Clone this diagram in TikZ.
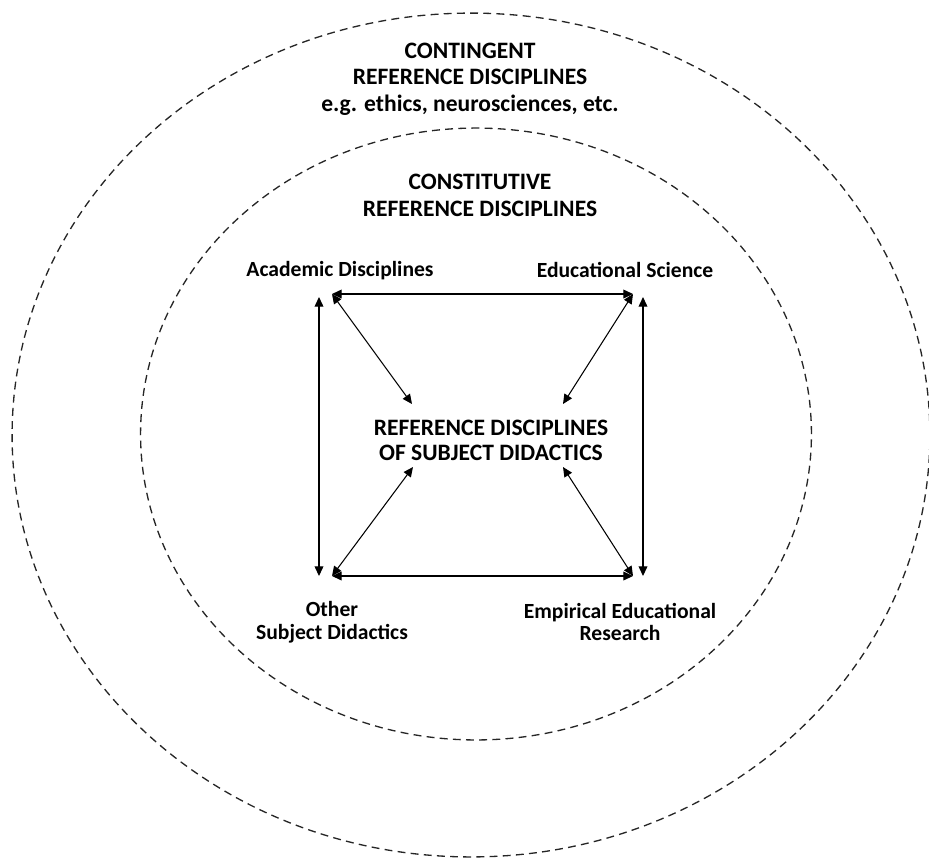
\documentclass[tikz,border=0pt]{standalone}
\usepackage{fontspec}
\setmainfont{Carlito}
\usetikzlibrary{arrows.meta, positioning}
\tikzstyle{ring} = [draw=black!85, line width=0.75pt, dash pattern=on 4.5pt off 3pt]
\tikzstyle{heading} = [font=\bfseries\fontsize{13.4}{15.2}\selectfont, align=center, inner sep=0pt]
\tikzstyle{corner} = [font=\bfseries\fontsize{12.3}{13}\selectfont, align=center, inner sep=0pt]
\tikzstyle{link} = [line width=0.6pt, {Triangle[length=5.5pt,width=5pt]}-{Triangle[length=5.5pt,width=5pt]}]

\begin{document}
\begin{tikzpicture}[x=0.02cm, y=-0.02cm]
	\useasboundingbox (0,0) rectangle (929,860);
	\clip (0,0) rectangle (929,860);
	% rings
	\draw[ring] (471,435) ellipse [x radius=9.18cm, y radius=8.44cm];
	\draw[ring] (476,434) ellipse [x radius=6.71cm, y radius=6.12cm];
	% texts
	\node[heading] (contingent) at (470,79) {CONTINGENT\\REFERENCE DISCIPLINES\\e.g. ethics, neurosciences, etc.};
	\node[heading] (constitutive) at (480,195) {CONSTITUTIVE\\REFERENCE DISCIPLINES};
	\node[heading, font=\bfseries\fontsize{13.4}{14.2}\selectfont] (center) at (491,440) {REFERENCE DISCIPLINES\\OF SUBJECT DIDACTICS};
	\node[corner] (academic) at (340,271) {Academic Disciplines};
	\node[corner] (educational) at (625,270) {Educational Science};
	\node[corner] (other) at (332,622) {Other\\Subject Didactics};
	\node[corner] (empirical) at (620,622) {Empirical Educational\\Research};
	% arrow ends
	\coordinate (tl) at (332,294);
	\coordinate (tr) at (633,294);
	\coordinate (bl) at (332,576);
	\coordinate (br) at (633,576);
	\coordinate (lt) at (319,297);
	\coordinate (lb) at (319,576);
	\coordinate (rt) at (643,297);
	\coordinate (rb) at (643,576);
	\coordinate (ctl) at (412,404);
	\coordinate (ctr) at (563,404);
	\coordinate (cbl) at (413,467);
	\coordinate (cbr) at (563,467);
	% arrows
	\draw[link] (tl) -- (tr);
	\draw[link] (bl) -- (br);
	\draw[link] (lt) -- (lb);
	\draw[link] (rt) -- (rb);
	\draw[link] (tl) -- (ctl);
	\draw[link] (tr) -- (ctr);
	\draw[link] (bl) -- (cbl);
	\draw[link] (br) -- (cbr);
\end{tikzpicture}
\end{document}
